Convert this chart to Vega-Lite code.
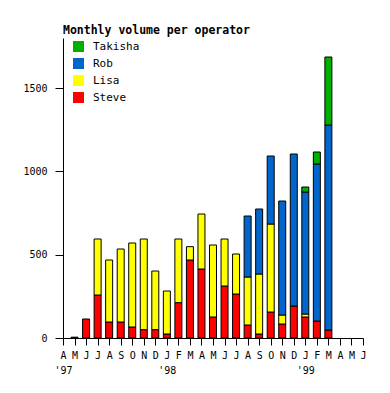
{
  "$schema": "https://vega.github.io/schema/vega-lite/v6.json",
  "autosize": "none",
  "padding": {"left": 63, "top": 38, "right": 27, "bottom": 55},
  "width": 300,
  "height": 300,
  "background": "white",
  "title": {
    "text": "Monthly volume per operator",
    "anchor": "start",
    "frame": "group",
    "font": "DejaVu Sans Mono",
    "fontSize": 11.5,
    "fontWeight": "bold",
    "color": "black",
    "offset": 2
  },
  "config": {
    "view": {"stroke": null},
    "axis": {
      "labelFont": "DejaVu Sans Mono",
      "labelFontSize": 10,
      "labelColor": "black",
      "domainColor": "black",
      "tickColor": "black",
      "domainWidth": 1,
      "tickWidth": 1,
      "grid": false,
      "title": null
    }
  },
  "data": {
    "values": [
      {"month": "1997-05", "op": "Steve", "v": 5},
      {"month": "1997-06", "op": "Steve", "v": 114},
      {"month": "1997-07", "op": "Steve", "v": 258},
      {"month": "1997-07", "op": "Lisa", "v": 336},
      {"month": "1997-08", "op": "Steve", "v": 96},
      {"month": "1997-08", "op": "Lisa", "v": 372},
      {"month": "1997-09", "op": "Steve", "v": 96},
      {"month": "1997-09", "op": "Lisa", "v": 438},
      {"month": "1997-10", "op": "Steve", "v": 66},
      {"month": "1997-10", "op": "Lisa", "v": 504},
      {"month": "1997-11", "op": "Steve", "v": 50},
      {"month": "1997-11", "op": "Lisa", "v": 544},
      {"month": "1997-12", "op": "Steve", "v": 50},
      {"month": "1997-12", "op": "Lisa", "v": 352},
      {"month": "1998-01", "op": "Steve", "v": 24},
      {"month": "1998-01", "op": "Lisa", "v": 258},
      {"month": "1998-02", "op": "Steve", "v": 212},
      {"month": "1998-02", "op": "Lisa", "v": 382},
      {"month": "1998-03", "op": "Steve", "v": 468},
      {"month": "1998-03", "op": "Lisa", "v": 80},
      {"month": "1998-04", "op": "Steve", "v": 414},
      {"month": "1998-04", "op": "Lisa", "v": 330},
      {"month": "1998-05", "op": "Steve", "v": 126},
      {"month": "1998-05", "op": "Lisa", "v": 432},
      {"month": "1998-06", "op": "Steve", "v": 312},
      {"month": "1998-06", "op": "Lisa", "v": 282},
      {"month": "1998-07", "op": "Steve", "v": 264},
      {"month": "1998-07", "op": "Lisa", "v": 240},
      {"month": "1998-08", "op": "Steve", "v": 78},
      {"month": "1998-08", "op": "Lisa", "v": 288},
      {"month": "1998-08", "op": "Rob", "v": 366},
      {"month": "1998-09", "op": "Steve", "v": 24},
      {"month": "1998-09", "op": "Lisa", "v": 360},
      {"month": "1998-09", "op": "Rob", "v": 390},
      {"month": "1998-10", "op": "Steve", "v": 156},
      {"month": "1998-10", "op": "Lisa", "v": 528},
      {"month": "1998-10", "op": "Rob", "v": 408},
      {"month": "1998-11", "op": "Steve", "v": 84},
      {"month": "1998-11", "op": "Lisa", "v": 54},
      {"month": "1998-11", "op": "Rob", "v": 684},
      {"month": "1998-12", "op": "Steve", "v": 192},
      {"month": "1998-12", "op": "Rob", "v": 912},
      {"month": "1999-01", "op": "Steve", "v": 126},
      {"month": "1999-01", "op": "Lisa", "v": 18},
      {"month": "1999-01", "op": "Rob", "v": 732},
      {"month": "1999-01", "op": "Takisha", "v": 30},
      {"month": "1999-02", "op": "Steve", "v": 102},
      {"month": "1999-02", "op": "Rob", "v": 942},
      {"month": "1999-02", "op": "Takisha", "v": 72},
      {"month": "1999-03", "op": "Steve", "v": 48},
      {"month": "1999-03", "op": "Rob", "v": 1230},
      {"month": "1999-03", "op": "Takisha", "v": 408}
    ]
  },
  "transform": [
    {"calculate": "indexof(['Steve','Lisa','Rob','Takisha'], datum.op)", "as": "rank"}
  ],
  "mark": {"type": "bar", "size": 7, "stroke": "black", "strokeWidth": 1},
  "encoding": {
    "x": {
      "field": "month",
      "type": "ordinal",
      "scale": {
        "type": "point",
        "padding": 0,
        "domain": ["1997-04","1997-05","1997-06","1997-07","1997-08","1997-09","1997-10","1997-11","1997-12","1998-01","1998-02","1998-03","1998-04","1998-05","1998-06","1998-07","1998-08","1998-09","1998-10","1998-11","1998-12","1999-01","1999-02","1999-03","1999-04","1999-05","1999-06"]
      },
      "axis": {
        "labelAngle": 0,
        "tickSize": 7,
        "labelPadding": 5,
        "labelLineHeight": 15,
        "labelBaseline": "top",
        "labelExpr": "[ ['J','F','M','A','M','J','J','A','S','O','N','D'][toNumber(substring(datum.value,5,7))-1], (substring(datum.value,5,7)=='01' || datum.value=='1997-04') ? \"'\" + substring(datum.value,2,4) : '' ]"
      }
    },
    "y": {
      "field": "v",
      "type": "quantitative",
      "stack": "zero",
      "scale": {"domain": [0, 1800], "nice": false},
      "axis": {"values": [0, 500, 1000, 1500], "format": "d", "tickSize": 8, "labelPadding": 8}
    },
    "color": {
      "field": "op",
      "type": "nominal",
      "scale": {
        "domain": ["Takisha", "Rob", "Lisa", "Steve"],
        "range": ["#00b000", "#0066cc", "#ffff00", "#ff0000"]
      },
      "legend": {
        "title": null,
        "orient": "none",
        "legendX": 10,
        "legendY": 3,
        "padding": 0,
        "symbolType": "square",
        "symbolSize": 121,
        "symbolStrokeWidth": 0,
        "symbolOpacity": 1,
        "rowPadding": 5,
        "labelOffset": 9,
        "labelFont": "DejaVu Sans Mono",
        "labelFontSize": 11,
        "labelColor": "black"
      }
    },
    "order": {"field": "rank", "type": "quantitative", "sort": "ascending"}
  }
}
